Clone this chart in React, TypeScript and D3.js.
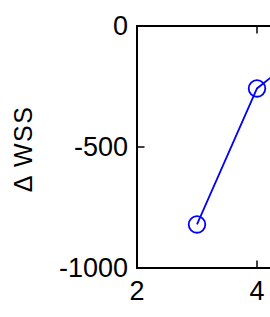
import { useEffect, useRef } from 'react'
import * as d3 from 'd3'

// number of clusters vs change in within-cluster sum of squares
const clusters = [3, 4, 5, 6]
const deltaWss = [-820, -258, -60, -25]
const xTicks = [2, 4]
const yTicks = [-1000, -500, 0]

const W = 270
const H = 317

const App = () => {
  const ref = useRef<SVGSVGElement>(null)

  useEffect(() => {
    const svg = d3.select(ref.current)
    svg.selectAll('*').remove()

    const left = 137
    const top = 26
    const bottom = 268
    const right = left + 60 * 4 // axis box runs off the picture

    const x = d3.scaleLinear().domain([2, 6]).range([left, right])
    const y = d3.scaleLinear().domain([-1000, 0]).range([bottom, top])

    const font = '"Liberation Sans", Arial, sans-serif'

    // box
    svg
      .append('path')
      .attr('d', `M${right},${top}H${left}V${bottom}H${right}`)
      .attr('fill', 'none')
      .attr('stroke', '#000')
      .attr('stroke-width', 2)

    // inward ticks
    const tk = 7.5
    svg
      .append('g')
      .selectAll('line.xb')
      .data(xTicks)
      .enter()
      .append('line')
      .attr('x1', (d) => x(d))
      .attr('x2', (d) => x(d))
      .attr('y1', bottom)
      .attr('y2', bottom - tk)
      .attr('stroke', '#000')
      .attr('stroke-width', 1.5)
    svg
      .append('g')
      .selectAll('line.xt')
      .data(xTicks)
      .enter()
      .append('line')
      .attr('x1', (d) => x(d))
      .attr('x2', (d) => x(d))
      .attr('y1', top)
      .attr('y2', top + tk)
      .attr('stroke', '#000')
      .attr('stroke-width', 1.5)
    svg
      .append('g')
      .selectAll('line')
      .data(yTicks)
      .enter()
      .append('line')
      .attr('x1', left)
      .attr('x2', left + tk)
      .attr('y1', (d) => y(d))
      .attr('y2', (d) => y(d))
      .attr('stroke', '#000')
      .attr('stroke-width', 1.5)

    // tick labels
    svg
      .append('g')
      .selectAll('text')
      .data(xTicks)
      .enter()
      .append('text')
      .attr('x', (d) => x(d))
      .attr('y', 300)
      .attr('text-anchor', 'middle')
      .style('font-family', font)
      .style('font-size', '27px')
      .text((d) => d)
    svg
      .append('g')
      .selectAll('text')
      .data(yTicks)
      .enter()
      .append('text')
      .attr('x', left - 9)
      .attr('y', (d) => y(d))
      .attr('dy', '0.35em')
      .attr('text-anchor', 'end')
      .style('font-family', font)
      .style('font-size', '27px')
      .text((d) => d)

    // y label
    svg
      .append('text')
      .attr('transform', `translate(32, ${(top + bottom) / 2 + 2}) rotate(-90)`)
      .attr('text-anchor', 'middle')
      .style('font-family', font)
      .style('font-size', '25px')
      .style('letter-spacing', '1.5px')
      .text('\u0394 WSS')

    const pts = clusters.map((c, i) => [x(c), y(deltaWss[i])] as [number, number])

    svg
      .append('path')
      .attr('d', d3.line()(pts))
      .attr('fill', 'none')
      .attr('stroke', '#0000ff')
      .attr('stroke-width', 1.8)

    svg
      .append('g')
      .selectAll('circle')
      .data(pts)
      .enter()
      .append('circle')
      .attr('cx', (d) => d[0])
      .attr('cy', (d) => d[1])
      .attr('r', 8.3)
      .attr('fill', 'none')
      .attr('stroke', '#0000ff')
      .attr('stroke-width', 1.8)
  }, [])

  return (
    <svg
      ref={ref}
      width={W}
      height={H}
      style={{ position: 'absolute', left: 0, top: 0, background: '#fff' }}
    />
  )
}

export default App
